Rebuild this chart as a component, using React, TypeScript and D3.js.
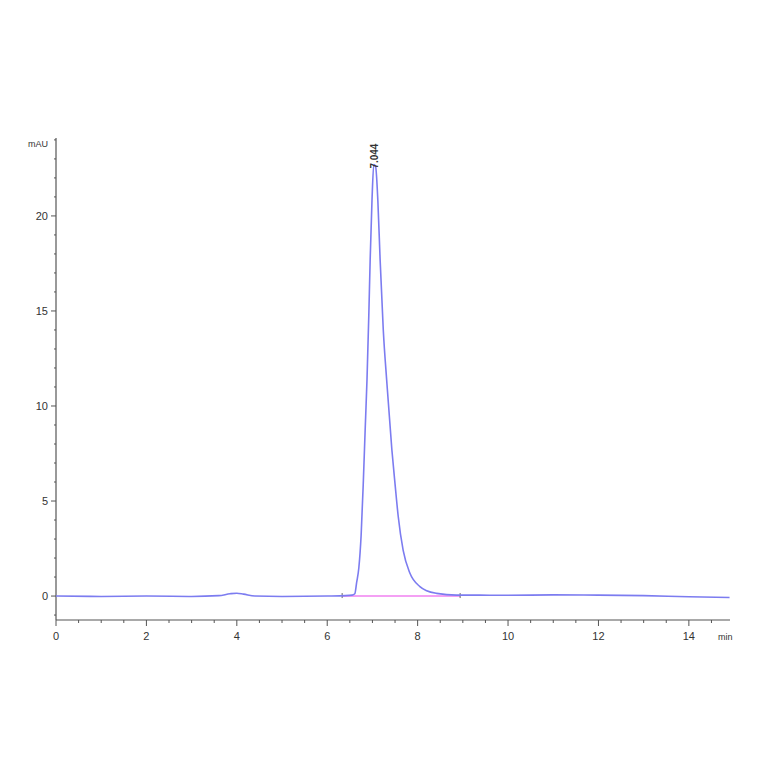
import * as d3 from 'd3';
import React, { useEffect, useRef } from 'react';

// retention time (min) and absorbance (mAU)
const times = [
  0, 1, 2, 3, 3.6, 3.85, 4.0, 4.15, 4.4, 5, 6, 6.4, 6.55, 6.61, 6.65, 6.7, 6.75, 6.8, 6.84,
  6.88, 6.92, 6.95, 6.99, 7.03, 7.07, 7.12, 7.17, 7.24, 7.32, 7.43, 7.5, 7.57, 7.68, 7.83,
  8.05, 8.2, 8.42, 8.86, 9.2, 10, 11, 12, 13, 14, 14.9,
];
const signal = [
  0, -0.02, 0, -0.02, 0.02, 0.12, 0.15, 0.1, 0.0, -0.02, 0.0, 0.02, 0.05, 0.12, 0.7, 1.5, 3.2,
  6.1, 8.8, 11.4, 14.8, 17.7, 20.8, 22.7, 22.6, 20.8, 17.7, 14.0, 11.2, 7.7, 5.9, 4.2, 2.4,
  1.2, 0.5, 0.28, 0.14, 0.05, 0.05, 0.04, 0.06, 0.05, 0.02, -0.04, -0.08,
];

const baselineTimes = [6.33, 8.94];
const peakTime = 7.044;
const peakHeight = 22.7;

const yMajorTicks = [0, 5, 10, 15, 20];
const xMajorTicks = [0, 2, 4, 6, 8, 10, 12, 14];

const Chromatogram = ({ width, height }: { width: number; height: number }) => {
  const svgRef = useRef(null);

  const renderSvg = () => {
    const svg = d3.select(svgRef.current);
    svg.selectAll('*').remove();

    const xScale = d3.scaleLinear().domain([0, 14.91]).range([56, 730]);
    const yScale = d3.scaleLinear().domain([-1.26, 24.1]).range([620, 138]);

    const axisColor = '#555';
    const font = 'Arial, "Liberation Sans", sans-serif';

    // y axis
    svg
      .append('line')
      .attr('x1', 56)
      .attr('x2', 56)
      .attr('y1', yScale(24.1))
      .attr('y2', yScale(-1.26))
      .attr('stroke', axisColor)
      .attr('stroke-width', 1.2);

    svg
      .append('g')
      .selectAll('line')
      .data(d3.range(-1, 25, 1))
      .enter()
      .append('line')
      .attr('x1', (d) => (d % 5 === 0 ? 51 : 54))
      .attr('x2', 56)
      .attr('y1', (d) => yScale(d))
      .attr('y2', (d) => yScale(d))
      .attr('stroke', axisColor)
      .attr('stroke-width', 1);

    svg
      .append('g')
      .selectAll('text')
      .data(yMajorTicks)
      .enter()
      .append('text')
      .attr('x', 48)
      .attr('y', (d) => yScale(d) + 4)
      .attr('text-anchor', 'end')
      .style('font-family', font)
      .style('font-size', '11px')
      .style('fill', '#333')
      .text((d) => d);

    svg
      .append('text')
      .attr('x', 28)
      .attr('y', 147)
      .style('font-family', font)
      .style('font-size', '9px')
      .style('fill', '#333')
      .text('mAU');

    // x axis
    svg
      .append('line')
      .attr('x1', 56)
      .attr('x2', 730)
      .attr('y1', 620)
      .attr('y2', 620)
      .attr('stroke', axisColor)
      .attr('stroke-width', 1.2);

    svg
      .append('g')
      .selectAll('line')
      .data(d3.range(0, 15, 0.5))
      .enter()
      .append('line')
      .attr('x1', (d) => xScale(d))
      .attr('x2', (d) => xScale(d))
      .attr('y1', 620)
      .attr('y2', (d) => (d % 2 === 0 ? 626 : 623))
      .attr('stroke', axisColor)
      .attr('stroke-width', 1);

    svg
      .append('g')
      .selectAll('text')
      .data(xMajorTicks)
      .enter()
      .append('text')
      .attr('x', (d) => xScale(d))
      .attr('y', 640)
      .attr('text-anchor', 'middle')
      .style('font-family', font)
      .style('font-size', '11px')
      .style('fill', '#333')
      .text((d) => d);

    svg
      .append('text')
      .attr('x', 718)
      .attr('y', 640)
      .style('font-family', font)
      .style('font-size', '9px')
      .style('fill', '#333')
      .text('min');

    // integration baseline
    svg
      .append('line')
      .attr('x1', xScale(baselineTimes[0]))
      .attr('x2', xScale(baselineTimes[1]))
      .attr('y1', yScale(0))
      .attr('y2', yScale(0))
      .attr('stroke', '#f080f0')
      .attr('stroke-width', 1.5);

    svg
      .append('g')
      .selectAll('line')
      .data(baselineTimes)
      .enter()
      .append('line')
      .attr('x1', (d) => xScale(d))
      .attr('x2', (d) => xScale(d))
      .attr('y1', yScale(0) - 3)
      .attr('y2', yScale(0) + 2)
      .attr('stroke', '#666')
      .attr('stroke-width', 1);

    // trace
    const points = times.map((t, i) => [t, signal[i]] as [number, number]);
    const line = d3
      .line<[number, number]>()
      .x((d) => xScale(d[0]))
      .y((d) => yScale(d[1]))
      .curve(d3.curveMonotoneX);

    svg
      .append('path')
      .datum(points)
      .attr('d', line)
      .style('fill', 'none')
      .style('stroke', '#7c7cf0')
      .style('stroke-width', '1.6');

    // peak label
    svg
      .append('text')
      .attr(
        'transform',
        'translate(' + (xScale(peakTime) + 4) + ',' + (yScale(peakHeight) + 4) + ') rotate(-90)'
      )
      .style('font-family', font)
      .style('font-size', '10px')
      .style('font-weight', 'bold')
      .style('fill', '#333')
      .text(peakTime.toFixed(3));
  };

  useEffect(() => {
    renderSvg();
  }, [width, height]);

  return <svg ref={svgRef} width={width} height={height} style={{ background: '#fff' }} />;
};

export default function App() {
  return (
    <div style={{ position: 'absolute', left: 0, top: 0 }}>
      <Chromatogram width={764} height={764} />
    </div>
  );
}
